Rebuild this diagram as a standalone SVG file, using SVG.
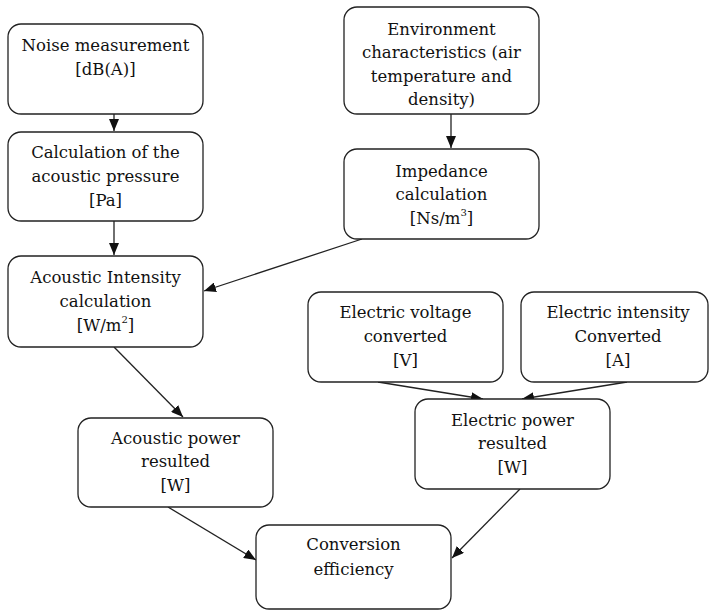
<svg xmlns="http://www.w3.org/2000/svg" width="709" height="611" viewBox="0 0 709 611">
<style>
.box{fill:#fff;stroke:#222;stroke-width:1.3}
.t{font-family:'DejaVu Serif','Liberation Serif',serif;font-size:16.5px;fill:#111;text-anchor:middle}
.sup{font-size:10px}
.edge{stroke:#222;stroke-width:1.3;fill:none;marker-end:url(#ah)}
</style>
<defs>
<marker id="ah" viewBox="0 0 12 10" refX="12" refY="5" markerWidth="12" markerHeight="10" markerUnits="userSpaceOnUse" orient="auto">
<path d="M0,0 L12,5 L0,10 z" fill="#111"/>
</marker>
</defs>
<rect width="709" height="611" fill="#fff"/>
<g id="connectors">
<line class="edge" x1="114" y1="114" x2="114" y2="131"/>
<line class="edge" x1="114" y1="221" x2="114" y2="255"/>
<line class="edge" x1="451" y1="114" x2="451" y2="148"/>
<line class="edge" x1="362" y1="239" x2="204" y2="291"/>
<line class="edge" x1="114" y1="347" x2="183" y2="417"/>
<line class="edge" x1="378" y1="382" x2="483" y2="399"/>
<line class="edge" x1="627" y1="382" x2="522" y2="399"/>
<line class="edge" x1="168" y1="507" x2="256" y2="560"/>
<line class="edge" x1="520" y1="489" x2="452" y2="558"/>
</g>
<g class="t">
<g id="noise">
<rect class="box" x="8" y="24" width="195" height="90" rx="13"/>
<text x="105.5" y="51">Noise measurement</text>
<text x="105.5" y="75">[dB(A)]</text>
</g>
<g id="pressure">
<rect class="box" x="8" y="132" width="195" height="89" rx="13"/>
<text x="105.5" y="158">Calculation of the</text>
<text x="105.5" y="182">acoustic pressure</text>
<text x="105.5" y="206">[Pa]</text>
</g>
<g id="intensity">
<rect class="box" x="8" y="256" width="195" height="91" rx="13"/>
<text x="105.5" y="283">Acoustic Intensity</text>
<text x="105.5" y="307">calculation</text>
<text x="105.5" y="331">[W/m<tspan class="sup" dy="-8">2</tspan><tspan dy="8">]</tspan></text>
</g>
<g id="environment">
<rect class="box" x="344" y="7" width="195" height="107" rx="13"/>
<text x="441.5" y="35">Environment</text>
<text x="441.5" y="58">characteristics (air</text>
<text x="441.5" y="82">temperature and</text>
<text x="441.5" y="105">density)</text>
</g>
<g id="impedance">
<rect class="box" x="344" y="149" width="195" height="90" rx="13"/>
<text x="441.5" y="177">Impedance</text>
<text x="441.5" y="200">calculation</text>
<text x="441.5" y="224">[Ns/m<tspan class="sup" dy="-8">3</tspan><tspan dy="8">]</tspan></text>
</g>
<g id="voltage">
<rect class="box" x="308" y="292" width="195" height="90" rx="13"/>
<text x="405.5" y="318">Electric voltage</text>
<text x="405.5" y="342">converted</text>
<text x="405.5" y="366">[V]</text>
</g>
<g id="current">
<rect class="box" x="521" y="292" width="187" height="90" rx="13"/>
<text x="618" y="318">Electric intensity</text>
<text x="618" y="342">Converted</text>
<text x="618" y="366">[A]</text>
</g>
<g id="electric-power">
<rect class="box" x="415" y="399" width="195" height="90" rx="13"/>
<text x="512.5" y="426">Electric power</text>
<text x="512.5" y="449">resulted</text>
<text x="512.5" y="473">[W]</text>
</g>
<g id="acoustic-power">
<rect class="box" x="78" y="418" width="195" height="89" rx="13"/>
<text x="175.5" y="444">Acoustic power</text>
<text x="175.5" y="467">resulted</text>
<text x="175.5" y="491">[W]</text>
</g>
<g id="efficiency">
<rect class="box" x="256" y="525" width="195" height="84" rx="13"/>
<text x="353.5" y="550">Conversion</text>
<text x="353.5" y="575">efficiency</text>
</g>
</g>
</svg>
